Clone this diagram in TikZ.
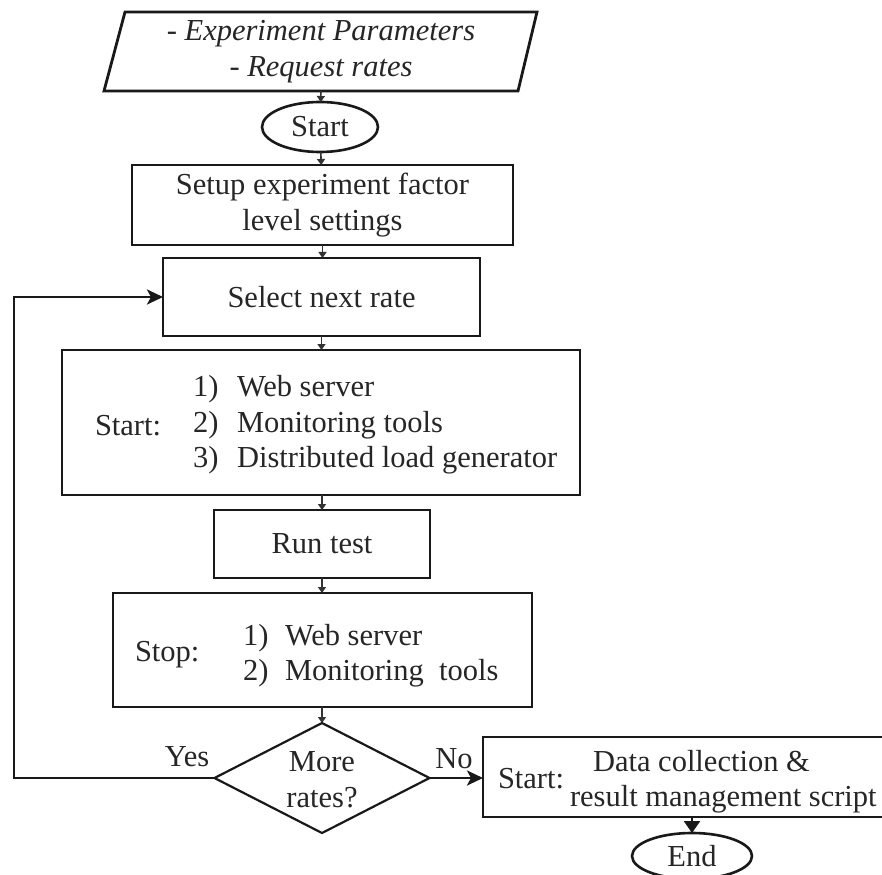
\documentclass[tikz,border=0pt]{standalone}
\usepackage{fontspec}
\setmainfont{Liberation Serif}
\usetikzlibrary{shapes.geometric,arrows.meta}

\begin{document}
\begin{tikzpicture}[x=1pt,y=-1pt,
  every node/.style={font=\fontsize{30.5}{36}\selectfont, text=black!85, inner sep=0pt, outer sep=0pt},
  stepbox/.style={draw=black!90, line width=2.8pt, rectangle},
  terminal/.style={draw=black!90, line width=2.6pt, ellipse},
  decision/.style={draw=black!90, line width=2.2pt, diamond},
  flow/.style={draw=black!80, line width=1.6pt, -{Triangle[length=6pt,width=8pt]}},
  bigflow/.style={draw=black!90, line width=2.8pt, -{Stealth[length=16pt,width=15pt,inset=4pt]}},
  endflow/.style={draw=black!90, line width=2.4pt, -{Triangle[length=12pt,width=16pt]}},
  lbl/.style={anchor=base west},
]
\clip (0,0) rectangle (882,874);
\fill[white] (0,0) rectangle (882,874);

% input parallelogram
\draw[stepbox] (125,12) -- (537,12) -- (518,91) -- (104,91) -- cycle;
\node[align=center] (param) at (321,52) {\itshape - Experiment Parameters\\\itshape - Request rates};
\coordinate (paramS) at (321,91);

% terminals
\node[terminal, minimum width=116pt, minimum height=50pt] (start) at (320,127) {Start};
\node[terminal, minimum width=120pt, minimum height=46pt] (endn) at (692,856) {End};

% process steps
\node[stepbox, minimum width=381pt, minimum height=80pt, align=center] (setup) at (322.5,205)
  {Setup experiment factor\\level settings};
\node[stepbox, minimum width=317pt, minimum height=78pt] (select) at (321.5,297) {Select next rate};
\node[stepbox, minimum width=518pt, minimum height=145pt] (launch) at (321,422.5) {};
\node[stepbox, minimum width=216pt, minimum height=68pt] (run) at (322,544) {Run test};
\node[stepbox, minimum width=419pt, minimum height=114pt] (halt) at (322.5,650) {};
\node[decision, minimum width=215pt, minimum height=110pt] (dec) at (322,778) {};
\node[align=center] (dectext) at (322,780) {More\\rates?};
\node[stepbox, minimum width=407pt, minimum height=80pt] (data) at (686.5,777) {};

% start list
\node[lbl] (lstart) at (95,435) {Start:};
\node[lbl] (ls1) at (193,396) {1)};
\node[lbl] (ls1t) at (237,396) {Web server};
\node[lbl] (ls2) at (193,432) {2)};
\node[lbl] (ls2t) at (237,432) {Monitoring tools};
\node[lbl] (ls3) at (193,467) {3)};
\node[lbl] (ls3t) at (237,467) {Distributed load generator};

% stop list
\node[lbl] (lstop) at (135,661) {Stop:};
\node[lbl] (lp1) at (243,645) {1)};
\node[lbl] (lp1t) at (285,645) {Web server};
\node[lbl] (lp2) at (243,680) {2)};
\node[lbl] (lp2t) at (285,680) {Monitoring\ \ tools};

% data collection text
\node[lbl] (dstart) at (498,788) {Start:};
\node[lbl] (dl1) at (593,771) {Data collection \&};
\node[lbl] (dl2) at (570,806) {result management script};

% branch labels
\node (yes) at (187,757) {Yes};
\node (no) at (454,759) {No};

% connectors
\draw[flow] (paramS) -- (start);
\draw[flow] (start) -- (setup);
\draw[flow] (setup.south) -- (setup.south |- select.north);
\draw[flow] (select) -- (select.south |- launch.north);
\draw[flow] (run.north |- launch.south) -- (run);
\draw[flow] (run) -- (run.south |- halt.north);
\draw[flow] (dec.north |- halt.south) -- (dec);
\coordinate (rail) at (14,778);
\draw[bigflow] (dec.west) -- (rail) |- (select.west);
\draw[bigflow] (dec.east) -- (dec.east -| data.west);
\draw[endflow] (endn.north |- data.south) -- (endn.north);
\end{tikzpicture}
\end{document}
